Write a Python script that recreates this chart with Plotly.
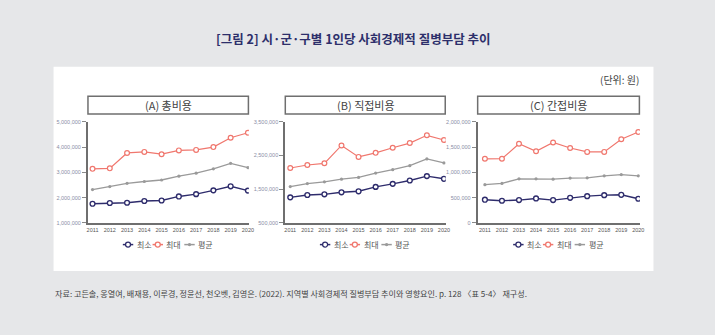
import plotly.graph_objects as go

W, H = 715, 335
years = list(range(2011, 2021))

# Panel A: 총비용
a_min = [1760000, 1790000, 1800000, 1870000, 1890000, 2050000, 2140000, 2290000, 2450000, 2280000]
a_max = [3140000, 3160000, 3770000, 3810000, 3720000, 3870000, 3890000, 4000000, 4370000, 4570000]
a_avg = [2320000, 2440000, 2570000, 2640000, 2700000, 2850000, 2970000, 3140000, 3360000, 3190000]
# Panel B: 직접비용
b_min = [1260000, 1330000, 1350000, 1410000, 1440000, 1570000, 1660000, 1760000, 1890000, 1810000]
b_max = [2130000, 2220000, 2270000, 2800000, 2460000, 2580000, 2730000, 2870000, 3100000, 2960000]
b_avg = [1580000, 1670000, 1720000, 1800000, 1850000, 1980000, 2080000, 2200000, 2400000, 2280000]
# Panel C: 간접비용
c_min = [460000, 440000, 453000, 485000, 453000, 498000, 531000, 550000, 557000, 479000]
c_max = [1269000, 1270000, 1566000, 1417000, 1592000, 1482000, 1405000, 1405000, 1657000, 1800000]
c_avg = [757000, 783000, 874000, 874000, 867000, 887000, 893000, 932000, 958000, 932000]

panel_titles = ["(A) 총비용", "(B) 직접비용", "(C) 간접비용"]
series_names = ["최소", "최대", "평균"]
y_ticks = [
    [1000000, 2000000, 3000000, 4000000, 5000000],
    [500000, 1500000, 2500000, 3500000],
    [0, 500000, 1000000, 1500000, 2000000],
]
y_ranges = [[1000000, 5000000], [500000, 3500000], [0, 2000000]]

title_text = "[그림 2] 시·군·구별 1인당 사회경제적 질병부담 추이"
unit_text = "(단위: 원)"
source_text = ("자료: 고든솔, 옹열여, 배재용, 이루경, 정윤선, 천오벳, 김영은. (2022). "
               "지역별 사회경제적 질병부담 추이와 영향요인. p. 128 〈표 5-4〉 재구성.")

COL_MIN = "#2e2c6c"
COL_MAX = "#f0776e"
COL_AVG = "#9a9a9a"
AX_COL = "#6f6f6f"
KR = "Noto Sans CJK KR"
NUM = "Liberation Sans Narrow, Liberation Sans, sans-serif"


def px(x):
    return x / W


def py(y):
    return 1 - y / H


# panel geometry (pixels): axis left, axis right, x of 2011, x of 2020
panels = [
    (87.7, 250.0, 92.3, 249.0),
    (286.7, 448.5, 291.7, 446.7),
    (480.7, 644.3, 488.0, 642.7),
]
plot_top, plot_bot = 121.0, 224.0

data = [(a_min, a_max, a_avg), (b_min, b_max, b_avg), (c_min, c_max, c_avg)]

fig = go.Figure()
layout = dict()
shapes = []
annotations = []

# white panel background
shapes.append(dict(type="rect", xref="paper", yref="paper", layer="below",
                   x0=px(53), x1=px(658), y0=py(273), y1=py(65),
                   fillcolor="white", line=dict(width=0)))

for i, (l, r, x11, x20) in enumerate(panels):
    sfx = "" if i == 0 else str(i + 1)
    per = (x20 - x11) / 9
    xr = [2011 - (x11 - l) / per, 2020 + (r - x20) / per]
    layout["xaxis" + sfx] = dict(
        domain=[px(l), px(r)], range=xr, anchor="y" + sfx,
        tickvals=years, ticktext=[str(y) for y in years],
        showline=True, linecolor=AX_COL, linewidth=2, ticks="",
        showgrid=False, zeroline=False,
        tickfont=dict(family=NUM, size=5.5, color="#555"),
        fixedrange=True,
    )
    layout["yaxis" + sfx] = dict(
        domain=[py(plot_bot), py(plot_top)], range=y_ranges[i], anchor="x" + sfx,
        tickvals=y_ticks[i], tickformat=",d",
        showline=True, linecolor=AX_COL, linewidth=2,
        ticks="outside", ticklen=4, tickcolor="#8a8a8a", tickwidth=1,
        showgrid=False, zeroline=False,
        tickfont=dict(family=NUM, size=5.5, color="#8a8ea6"),
        fixedrange=True,
    )
    mn, mx, av = data[i]
    fig.add_trace(go.Scatter(x=years, y=av, mode="lines+markers", name=series_names[2],
                             xaxis="x" + sfx, yaxis="y" + sfx, showlegend=False,
                             line=dict(color=COL_AVG, width=1.3),
                             marker=dict(symbol="circle", size=3.2, color=COL_AVG)))
    fig.add_trace(go.Scatter(x=years, y=mx, mode="lines+markers", name=series_names[1],
                             xaxis="x" + sfx, yaxis="y" + sfx, showlegend=False,
                             line=dict(color=COL_MAX, width=1.2),
                             marker=dict(symbol="circle", size=4.8, color="white",
                                         line=dict(color=COL_MAX, width=1.2))))
    fig.add_trace(go.Scatter(x=years, y=mn, mode="lines+markers", name=series_names[0],
                             xaxis="x" + sfx, yaxis="y" + sfx, showlegend=False,
                             line=dict(color=COL_MIN, width=1.4),
                             marker=dict(symbol="circle", size=4.8, color="white",
                                         line=dict(color=COL_MIN, width=1.4))))

    # panel title box
    shapes.append(dict(type="rect", xref="paper", yref="paper",
                       x0=px(l), x1=px(r - 0.5), y0=py(113), y1=py(95),
                       fillcolor="white", line=dict(color=AX_COL, width=1.5)))
    annotations.append(dict(text=panel_titles[i], xref="paper", yref="paper",
                            x=px((l + r) / 2), y=py(104), showarrow=False,
                            xanchor="center", yanchor="middle",
                            font=dict(family=KR, size=11, color="#444")))

    # legend (drawn below each panel)
    c = (l + r) / 2
    ly = 246
    items = [(-46, COL_MIN, True, series_names[0]),
             (-16, COL_MAX, True, series_names[1]),
             (16, COL_AVG, False, series_names[2])]
    for off, col, open_marker, name in items:
        x0 = c + off
        shapes.append(dict(type="line", xref="paper", yref="paper",
                           x0=px(x0), x1=px(x0 + 10.5), y0=py(ly), y1=py(ly),
                           line=dict(color=col, width=1.5)))
        cx = x0 + 5.25
        rad = 2.5 if open_marker else 1.7
        shapes.append(dict(type="circle", xref="paper", yref="paper",
                           xsizemode="pixel", ysizemode="pixel",
                           xanchor=px(cx), yanchor=py(ly),
                           x0=-rad, x1=rad, y0=-rad, y1=rad,
                           fillcolor="white" if open_marker else col,
                           line=dict(color=col, width=1.3 if open_marker else 0)))
        annotations.append(dict(text=name, xref="paper", yref="paper",
                                x=px(x0 + 12), y=py(ly), showarrow=False,
                                xanchor="left", yanchor="middle",
                                font=dict(family=KR, size=8, color="#555")))

annotations.append(dict(text="<b>" + title_text + "</b>", xref="paper", yref="paper",
                        x=px(355), y=py(36), showarrow=False,
                        xanchor="center", yanchor="middle",
                        font=dict(family=KR, size=12.5, color="#2d2f6b")))
annotations.append(dict(text=unit_text, xref="paper", yref="paper",
                        x=px(645), y=py(78), showarrow=False,
                        xanchor="right", yanchor="middle",
                        font=dict(family=KR, size=10, color="#444")))
annotations.append(dict(text=source_text, xref="paper", yref="paper",
                        x=px(52), y=py(296), showarrow=False,
                        xanchor="left", yanchor="middle",
                        font=dict(family=KR, size=8.1, color="#444")))

fig.update_layout(
    width=W, height=H,
    margin=dict(l=0, r=0, t=0, b=0),
    paper_bgcolor="#e6e7e9",
    plot_bgcolor="rgba(0,0,0,0)",
    showlegend=False,
    shapes=shapes,
    annotations=annotations,
    **layout,
)

fig.write_html("out.html", config={"displayModeBar": False})
